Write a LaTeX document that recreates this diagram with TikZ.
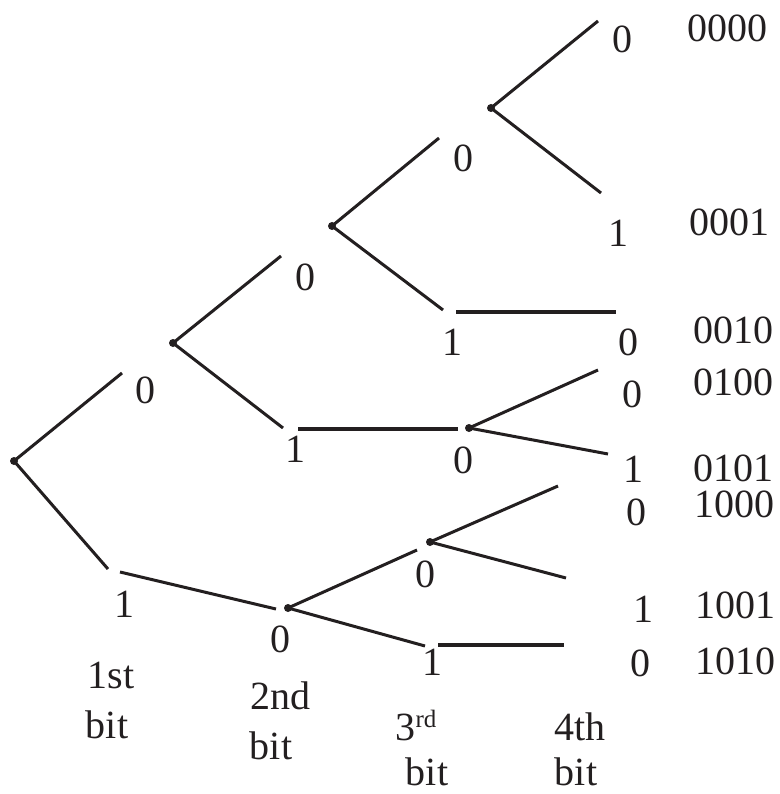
\documentclass[tikz,border=0pt]{standalone}
\usepackage{fontspec}
\setmainfont{Liberation Serif}
\definecolor{ink}{HTML}{231F20}
\begin{document}
\begin{tikzpicture}[x=1pt,y=-1pt,
  dotn/.style={circle,fill=ink,minimum size=8pt,inner sep=0pt},
  lab/.style={anchor=base,inner sep=0pt,text=ink,font=\fontsize{40}{46}\selectfont},
  br/.style={line width=3pt,draw=ink},
  hz/.style={line width=3.4pt,draw=ink}]
\useasboundingbox (0,0) rectangle (779,794);
% branching dots
\node[dotn] (r) at (14,461) {};
\node[dotn] (A) at (173,343) {};
\node[dotn] (F) at (332,226) {};
\node[dotn] (E) at (491,108) {};
\node[dotn] (C) at (469,428) {};
\node[dotn] (B) at (288,608) {};
\node[dotn] (D) at (430,542) {};
% free ends
\coordinate (r0) at (122,373);
\coordinate (r1) at (108,569);
\coordinate (b1s) at (120,572);
\coordinate (b1e) at (276,609);
\coordinate (A0) at (281,256);
\coordinate (A1) at (283,428);
\coordinate (h1s) at (298,429);
\coordinate (h1e) at (458,429);
\coordinate (F0) at (439,138);
\coordinate (F1) at (443,310);
\coordinate (h2s) at (456,312);
\coordinate (h2e) at (616,312);
\coordinate (E0) at (598,21);
\coordinate (E1) at (601,193);
\coordinate (C0) at (598,370);
\coordinate (C1) at (608,454);
\coordinate (B0) at (417,550);
\coordinate (B1) at (425,646);
\coordinate (D0) at (558,486);
\coordinate (D1) at (566,578);
\coordinate (h3s) at (438,645);
\coordinate (h3e) at (564,645);
% connectors
\draw[br] (r.center) -- (r0);
\draw[br] (r.center) -- (r1);
\draw[br] (b1s) -- (b1e);
\draw[br] (A.center) -- (A0);
\draw[br] (A.center) -- (A1);
\draw[hz] (h1s) -- (h1e);
\draw[br] (F.center) -- (F0);
\draw[br] (F.center) -- (F1);
\draw[hz] (h2s) -- (h2e);
\draw[br] (E.center) -- (E0);
\draw[br] (E.center) -- (E1);
\draw[br] (C.center) -- (C0);
\draw[br] (C.center) -- (C1);
\draw[br] (B.center) -- (B0);
\draw[br] (B.center) -- (B1);
\draw[br] (D.center) -- (D0);
\draw[br] (D.center) -- (D1);
\draw[hz] (h3s) -- (h3e);
% branch labels
\node[lab] (l1) at (145,403) {0};
\node[lab] (l2) at (124,617) {1};
\node[lab] (l3) at (305,290) {0};
\node[lab] (l4) at (295,462) {1};
\node[lab] (l5) at (463,172) {0};
\node[lab] (l6) at (452,355) {1};
\node[lab] (l7) at (463,473) {0};
\node[lab] (l8) at (280,652) {0};
\node[lab] (l9) at (425,587) {0};
\node[lab] (l10) at (432,675) {1};
\node[lab] (l11) at (622,53) {0};
\node[lab] (l12) at (618,246) {1};
\node[lab] (l13) at (628,355) {0};
\node[lab] (l14) at (632,407) {0};
\node[lab] (l15) at (633,482) {1};
\node[lab] (l16) at (636,525) {0};
\node[lab] (l17) at (643,622) {1};
\node[lab] (l18) at (640,676) {0};
% codes
\node[lab] (c1) at (727,42) {0000};
\node[lab] (c2) at (729,235) {0001};
\node[lab] (c3) at (733,343) {0010};
\node[lab] (c4) at (733,395) {0100};
\node[lab] (c5) at (733,481) {0101};
\node[lab] (c6) at (734,517) {1000};
\node[lab] (c7) at (735,618) {1001};
\node[lab] (c8) at (735,674) {1010};
% bit captions
\node[lab] (t1) at (111,688) {1st};
\node[lab] (t1b) at (107,738) {bit};
\node[lab] (t2) at (280,709) {2nd};
\node[lab] (t2b) at (271,759) {bit};
\node[lab] (t3) at (416,740) {3\raisebox{13pt}{\fontsize{25}{25}\selectfont rd}};
\node[lab] (t3b) at (427,785) {bit};
\node[lab] (t4) at (580,740) {4th};
\node[lab] (t4b) at (576,785) {bit};
\end{tikzpicture}
\end{document}
